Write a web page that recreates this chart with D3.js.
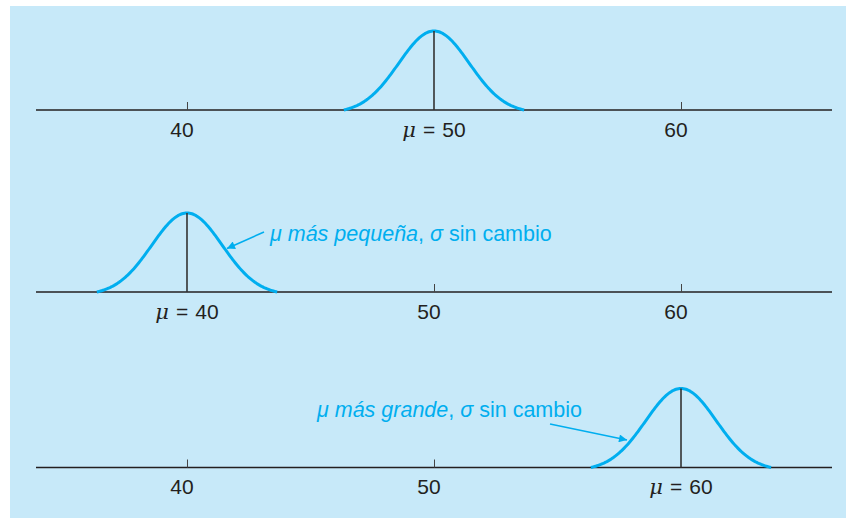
<!DOCTYPE html>
<html>
<head>
<meta charset="utf-8">
<script src="https://cdn.jsdelivr.net/npm/d3@7"></script>
<style>
  body { margin: 0; background: #fff; }
  svg text { font-family: "Liberation Sans", Arial, sans-serif; }
</style>
</head>
<body>
<script>
'use strict';

// one panel per row: the mean of each normal curve
const means = [50, 40, 60];
const sigma = 1.43;
const tickValues = [40, 50, 60];
const curveHalfRange = 3.65; // how far each side of the mean the curve is drawn
const annotationTexts = [
  null,
  ["μ más pequeña", "σ"],
  ["μ más grande", "σ"]
];

(function () {
  const width = 846, height = 518;
  const baselines = [110, 292, 467.5];
  const peakHeight = 79;

  const svg = d3.select('body').append('svg')
    .attr('width', width)
    .attr('height', height);

  // light blue panel
  svg.append('rect')
    .attr('x', 10).attr('y', 6)
    .attr('width', width - 10).attr('height', height - 6)
    .attr('fill', '#c7e9f9');

  // arrow head for annotations
  svg.append('defs').append('marker')
    .attr('id', 'arrow')
    .attr('viewBox', '0 0 10 10')
    .attr('refX', 10).attr('refY', 5)
    .attr('markerWidth', 11).attr('markerHeight', 8)
    .attr('markerUnits', 'userSpaceOnUse')
    .attr('orient', 'auto')
    .append('path')
    .attr('d', 'M0,0L10,5L0,10z')
    .attr('fill', '#00aeef');

  const x = d3.scaleLinear()
    .domain([33.887, 66.113])
    .range([36, 832]);

  const pdf = (v, m) => Math.exp(-0.5 * Math.pow((v - m) / sigma, 2));
  const tail = pdf(curveHalfRange, 0);

  means.forEach((mean, i) => {
    const base = baselines[i];
    // curve ends sit on the axis
    const y = d3.scaleLinear().domain([tail, 1]).range([base, base - peakHeight]);
    const g = svg.append('g');

    // axis line with small ticks pointing up
    const axis = d3.axisTop(x)
      .tickValues(tickValues.filter(t => t !== mean))
      .tickSize(8)
      .tickFormat('');
    g.append('g')
      .attr('transform', 'translate(0,' + base + ')')
      .call(axis)
      .call(s => s.select('.domain').attr('d', 'M36,0H832').attr('stroke', '#231f20').attr('stroke-width', 1.6))
      .call(s => s.selectAll('.tick line').attr('stroke', '#444').attr('stroke-width', 1));

    // tick labels
    tickValues.forEach(t => {
      const isMean = t === mean;
      const label = g.append('text')
        .attr('x', x(t) + (isMean ? 0 : -5))
        .attr('y', base + 26.5)
        .attr('text-anchor', 'middle')
        .attr('fill', '#231f20')
        .style('font-size', '21px');
      if (isMean) {
        label.append('tspan')
          .style('font-family', '"DejaVu Serif", serif')
          .style('font-style', 'italic')
          .text('μ');
        label.append('tspan').text('\u2004=\u2004' + t);
      } else {
        label.text(t);
      }
    });

    // normal curve
    const pts = d3.range(mean - curveHalfRange, mean + curveHalfRange + 0.001, 0.05);
    g.append('path')
      .datum(pts)
      .attr('d', d3.line().x(v => x(v)).y(v => y(pdf(v, mean))))
      .attr('fill', 'none')
      .attr('stroke', '#00aeef')
      .attr('stroke-width', 3);

    // line at the mean
    g.append('line')
      .attr('x1', x(mean)).attr('x2', x(mean))
      .attr('y1', base).attr('y2', y(1))
      .attr('stroke', '#333')
      .attr('stroke-width', 1.6);
  });

  // annotations
  function annotate(parts, tx, ty, from, to) {
    const t = svg.append('text')
      .attr('x', tx).attr('y', ty)
      .attr('fill', '#00aeef')
      .style('font-size', '21.5px');
    t.append('tspan').style('font-style', 'italic').text(parts[0]);
    t.append('tspan').text(', ');
    t.append('tspan').style('font-style', 'italic').text(parts[1]);
    t.append('tspan').text(' sin cambio');

    svg.append('line')
      .attr('x1', from[0]).attr('y1', from[1])
      .attr('x2', to[0]).attr('y2', to[1])
      .attr('stroke', '#00aeef')
      .attr('stroke-width', 1.6)
      .attr('marker-end', 'url(#arrow)');
  }

  annotate(annotationTexts[1], 270, 241, [264, 232], [227, 248.5]);
  annotate(annotationTexts[2], 317, 416.5, [550, 424], [627, 440]);
})();
</script>
</body>
</html>
